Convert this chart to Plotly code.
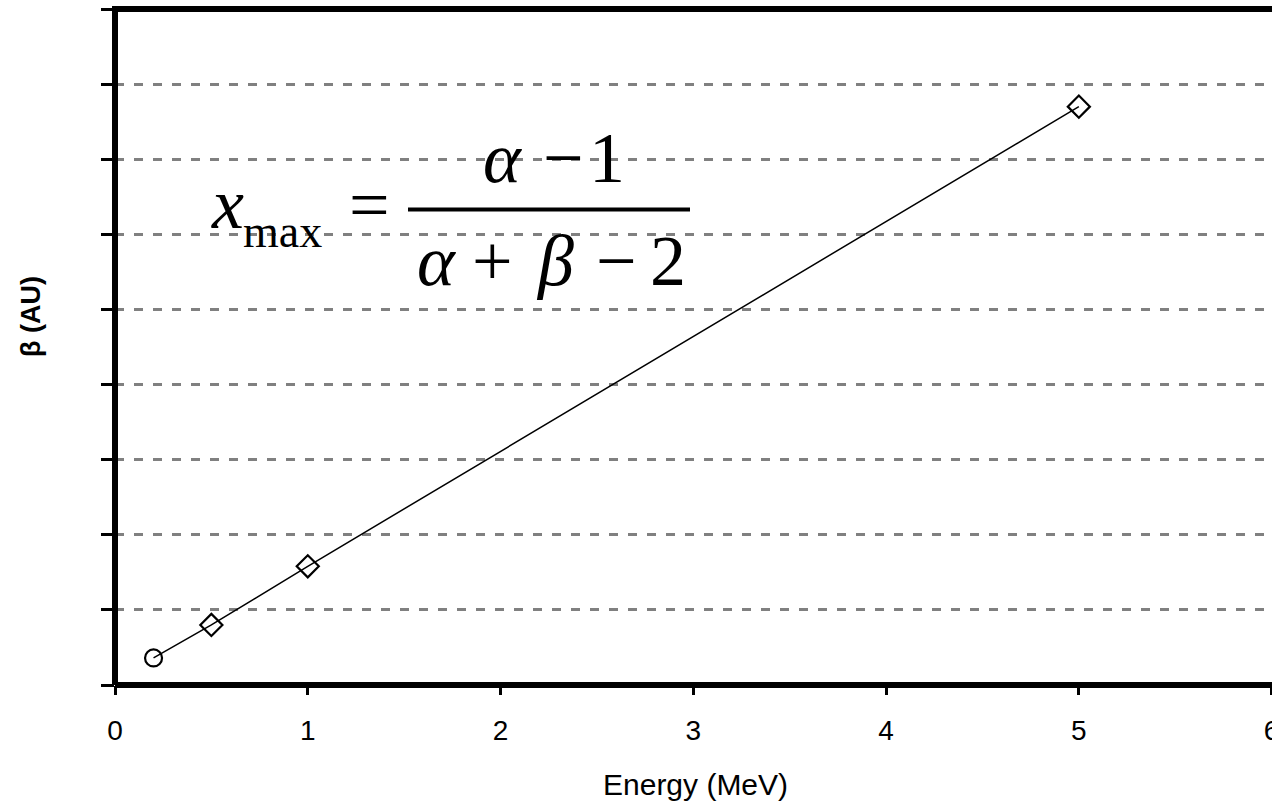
import plotly.graph_objects as go

# ---- data ----
energy = [0.2, 0.5, 1, 5]
beta_au = [0.36, 0.80, 1.58, 7.70]
x_ticks = [0, 1, 2, 3, 4, 5, 6]
y_ticks = [0, 1, 2, 3, 4, 5, 6, 7, 8, 9]
x_title = "Energy (MeV)"
y_title = "β (AU)"

W, H = 1272, 801
L, R, T, B = 115, 0, 9, 116
PW, PH = W - L - R, H - T - B


def X(px):
    return (px - L) / PW


def Y(py):
    return (H - B - py) / PH


fig = go.Figure()
fig.add_trace(go.Scatter(
    x=energy, y=beta_au, mode="lines+markers",
    line=dict(color="black", width=1.5),
    marker=dict(symbol=["circle-open", "diamond-open", "diamond-open", "diamond-open"],
                size=17, color="black", line=dict(color="black", width=2.2)),
    showlegend=False, cliponaxis=False,
))

axis_font = dict(family="Liberation Sans", size=28, color="black")

fig.update_layout(
    width=W, height=H,
    margin=dict(l=L, r=R, t=T, b=B, autoexpand=False),
    paper_bgcolor="white", plot_bgcolor="white",
    xaxis=dict(range=[0, 6.002], tickvals=x_ticks, ticks="outside", ticklen=9,
               tickwidth=3, tickcolor="black", showgrid=False, zeroline=False,
               showline=False, tickfont=axis_font, ticklabelstandoff=11,
               ticklabeloverflow="allow", automargin=False),
    yaxis=dict(range=[0, 9], tickvals=y_ticks, ticks="outside", ticklen=13,
               tickwidth=3, tickcolor="black", showticklabels=False,
               showgrid=True, gridcolor="#808080", gridwidth=3,
               griddash="9px,10px", zeroline=False, showline=False,
               automargin=False),
)

# frame lines (left, bottom, top)
for x0, y0, x1, y1 in [(0, 0, 0, 1), (0, 0, 1, 0), (X(112), 1, 1, 1)]:
    fig.add_shape(type="line", xref="paper", yref="paper", x0=x0, y0=y0, x1=x1, y1=y1,
                  line=dict(color="black", width=6), layer="above")

# axis titles
fig.add_annotation(text=x_title, xref="paper", yref="paper", x=X(695), y=Y(784),
                   showarrow=False, font=dict(family="Liberation Sans", size=30, color="black"),
                   xanchor="center", yanchor="middle")
fig.add_annotation(text="<b>" + y_title + "</b>", xref="paper", yref="paper", x=X(31), y=Y(316),
                   showarrow=False, font=dict(family="Liberation Sans", size=27, color="black"),
                   textangle=-90, xanchor="center", yanchor="middle")

# formula x_max = (α-1)/(α+β-2)
serif = "Liberation Serif"
glyphs = [
    ("<i>α</i>", 502, 182, 72),
    ("−", 563, 182, 72),
    ("1", 607, 182, 72),
    ("<i>α</i>", 436, 285, 72),
    ("+", 493, 285, 72),
    ("<i>β</i>", 555, 285, 72),
    ("−", 616, 285, 72),
    ("2", 668, 285, 72),
    ("<i>x</i>", 227, 228, 72),
    ("max", 282, 247, 46),
    ("=", 369, 229, 72),
]
for txt, cx, base, size in glyphs:
    fig.add_annotation(text=txt, xref="paper", yref="paper", x=X(cx),
                       y=Y(base - 0.3375 * size), showarrow=False,
                       font=dict(family=serif, size=size, color="black"),
                       xanchor="center", yanchor="middle", borderpad=0)
fig.add_shape(type="line", xref="paper", yref="paper", x0=X(408), x1=X(690),
              y0=Y(209.5), y1=Y(209.5), line=dict(color="black", width=4))

fig.write_html("out.html")
